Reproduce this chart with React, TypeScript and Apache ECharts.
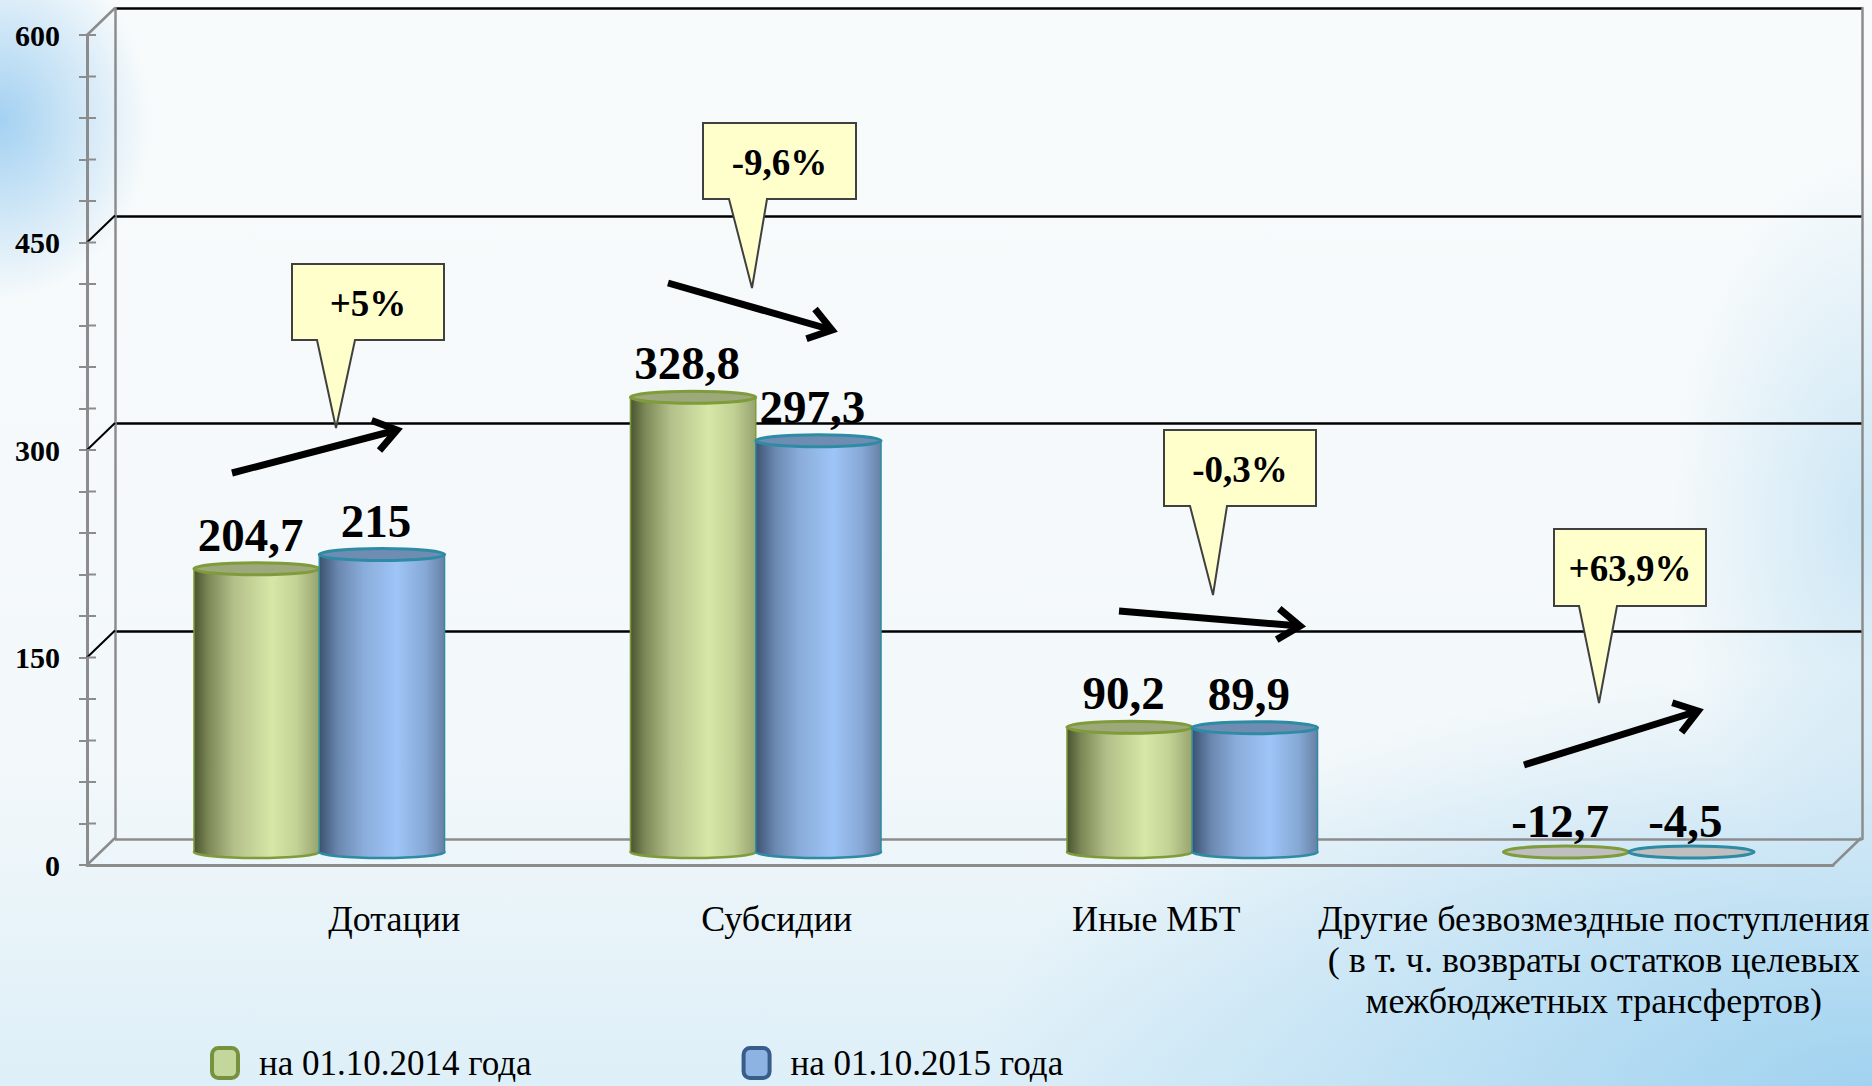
import React, { useEffect, useRef } from "react";
import * as echarts from "echarts";

const categories = [
  "Дотации",
  "Субсидии",
  "Иные МБТ",
  "Другие безвозмездные поступления\n( в т. ч. возвраты остатков целевых\nмежбюджетных трансфертов)",
];
const series2014 = [204.7, 328.8, 90.2, -12.7];
const series2015 = [215, 297.3, 89.9, -4.5];
const seriesNames = ["на 01.10.2014 года", "на 01.10.2015 года"];
const yTicks = [0, 150, 300, 450, 600];
const minorTicks = [0, 30, 60, 90, 120, 150, 180, 210, 240, 270, 300, 330, 360, 390, 420, 450, 480, 510, 540, 570, 600];
const changeLabels = ["+5%", "-9,6%", "-0,3%", "+63,9%"];

const FONT = '"Liberation Serif", "Times New Roman", serif';

const fmt = (v: number) => String(v).replace(".", ",");

const palettes = [
  {
    body: [
      [0, "#4A5430"],
      [0.12, "#7D8A58"],
      [0.32, "#B3C08A"],
      [0.62, "#D6E7A6"],
      [0.82, "#C2D295"],
      [1, "#98A36E"],
    ],
    top: "#9DA97A",
    stroke: "#7F9B3A",
    legendFill: "#C3D69B",
    legendBorder: "#76923C",
  },
  {
    body: [
      [0, "#3C5271"],
      [0.15, "#6A87AF"],
      [0.35, "#8AACDA"],
      [0.62, "#9EC5F7"],
      [0.85, "#86A8D5"],
      [1, "#6781A5"],
    ],
    top: "#6F8CB2",
    stroke: "#2E8BA4",
    legendFill: "#8DB3E2",
    legendBorder: "#385D8A",
  },
];

function cylinder(idx: number) {
  const p = palettes[idx];
  return (params: any, api: any) => {
    const cat = api.value(0);
    const v = api.value(1);
    const band = api.size([1, 0])[0];
    const w = band * 0.287;
    const base = api.coord([cat, 0]);
    const topPt = api.coord([cat, Math.max(v, 0)]);
    const cx = base[0] + (idx === 0 ? -w / 2 : w / 2);
    const x0 = cx - w / 2;
    const yb = base[1];
    const yt = topPt[1];
    const ry = 6;
    const grad = {
      type: "linear",
      x: 0,
      y: 0,
      x2: 1,
      y2: 0,
      colorStops: p.body.map((s: any) => ({ offset: s[0], color: s[1] })),
    };
    const children: any[] = [];
    if (v > 0) {
      children.push({
        type: "ellipse",
        shape: { cx, cy: yb, rx: w / 2, ry },
        style: { fill: grad, stroke: p.stroke, lineWidth: 2.5 },
      });
      children.push({
        type: "rect",
        shape: { x: x0, y: yt, width: w, height: yb - yt },
        style: { fill: grad, lineWidth: 0 },
      });
      children.push({
        type: "line",
        shape: { x1: x0, y1: yt, x2: x0, y2: yb },
        style: { stroke: p.stroke, lineWidth: 1.5 },
      });
      children.push({
        type: "line",
        shape: { x1: x0 + w, y1: yt, x2: x0 + w, y2: yb },
        style: { stroke: p.stroke, lineWidth: 1.5 },
      });
      children.push({
        type: "ellipse",
        shape: { cx, cy: yt, rx: w / 2, ry },
        style: { fill: p.top, stroke: p.stroke, lineWidth: 3 },
      });
    } else {
      children.push({
        type: "ellipse",
        shape: { cx, cy: yb, rx: w / 2, ry },
        style: { fill: "#BFBFBF", stroke: p.stroke, lineWidth: 3 },
      });
    }
    children.push({
      type: "text",
      z2: 50,
      style: {
        text: fmt(v),
        x: cx - 6,
        y: v > 0 ? yt - 34 : yb - 31,
        align: "center",
        verticalAlign: "middle",
        font: `bold 47px ${FONT}`,
        fill: "#000",
      },
    });
    return { type: "group", children };
  };
}

function frameLines(params: any, api: any) {
  const x = api.value(0);
  const v = api.value(1);
  const dark = api.value(2);
  const pt = api.coord([x, v]);
  return {
    type: "line",
    shape: { x1: pt[0], y1: pt[1], x2: pt[0] + 28, y2: pt[1] - 27 },
    style: { stroke: dark ? "#000" : "#8C8C8C", lineWidth: dark ? 2 : 2.5 },
  };
}

function arrow(x1: number, y1: number, x2: number, y2: number) {
  const ang = Math.atan2(y2 - y1, x2 - x1);
  const L = 27;
  const a = (35 * Math.PI) / 180;
  const w1 = [x2 - L * Math.cos(ang - a), y2 - L * Math.sin(ang - a)];
  const w2 = [x2 - L * Math.cos(ang + a), y2 - L * Math.sin(ang + a)];
  return [
    {
      type: "line",
      z: 100,
      shape: { x1, y1, x2, y2 },
      style: { stroke: "#000", lineWidth: 7 },
    },
    {
      type: "polyline",
      z: 100,
      shape: { points: [w1, [x2, y2], w2] },
      style: { stroke: "#000", lineWidth: 7, fill: null, lineJoin: "miter" },
    },
  ];
}

function callout(
  bx0: number,
  by0: number,
  bx1: number,
  by1: number,
  t0: number,
  t1: number,
  tip: number[],
  text: string
) {
  return [
    {
      type: "polygon",
      z: 100,
      shape: {
        points: [
          [bx0, by0],
          [bx1, by0],
          [bx1, by1],
          [t1, by1],
          tip,
          [t0, by1],
          [bx0, by1],
        ],
      },
      style: { fill: "#FFFFCC", stroke: "#404040", lineWidth: 2 },
    },
    {
      type: "text",
      z: 101,
      x: (bx0 + bx1) / 2,
      y: (by0 + by1) / 2 + 1,
      style: {
        text,
        align: "center",
        verticalAlign: "middle",
        font: `bold 37px ${FONT}`,
        fill: "#000",
      },
    },
  ];
}

export default function App() {
  const ref = useRef<HTMLDivElement>(null);
  useEffect(() => {
    if (!ref.current) return;
    const chart = echarts.init(ref.current, null, { renderer: "svg" });

    const pads = [
      [0, 0, 0, 150],
      [0, 0, 0, 42],
      [0, 72, 0, 0],
      [0, 70, 0, 0],
    ];
    const catLabelData = categories.map((c, i) => ({
      value: c,
      textStyle: { padding: pads[i] },
    }));

    const option: any = {
      animation: false,
      backgroundColor: "transparent",
      textStyle: { fontFamily: FONT },
      grid: [
        { left: 115, right: 10, top: 8, bottom: 247, containLabel: false, outerBoundsMode: "none" },
        { left: 87, right: 39, top: 35, bottom: 221, containLabel: false, outerBoundsMode: "none" },
        { left: 101, right: 25, top: 22, bottom: 234, containLabel: false, outerBoundsMode: "none" },
      ],
      xAxis: [
        { gridIndex: 0, type: "value", min: 0, max: 1, show: false },
        {
          gridIndex: 1,
          type: "value",
          min: 0,
          max: 1,
          axisLine: { show: true, lineStyle: { color: "#8C8C8C", width: 3 } },
          axisTick: { show: false },
          axisLabel: { show: false },
          splitLine: { show: false },
        },
        {
          gridIndex: 2,
          type: "category",
          data: catLabelData,
          axisLine: { show: false },
          axisTick: { show: false },
          axisLabel: {
            interval: 0,
            margin: 46,
            fontSize: 36,
            lineHeight: 41,
            fontFamily: FONT,
            color: "#000",
          },
        },
      ],
      yAxis: [
        {
          gridIndex: 0,
          type: "value",
          position: "left",
          min: 0,
          max: 600,
          interval: 150,
          axisLine: { show: true, lineStyle: { color: "#8C8C8C", width: 2.5 } },
          axisTick: { show: false },
          axisLabel: { show: false },
          splitLine: {
            show: true,
            lineStyle: { color: ["#8C8C8C", "#000", "#000", "#000", "#000"], width: 2.5 },
          },
        },
        {
          gridIndex: 0,
          type: "value",
          position: "right",
          min: 0,
          max: 600,
          interval: 150,
          axisLine: { show: true, lineStyle: { color: "#8C8C8C", width: 2.5 } },
          axisTick: { show: false },
          axisLabel: { show: false },
          splitLine: { show: false },
        },
        {
          gridIndex: 1,
          type: "value",
          position: "left",
          min: 0,
          max: 600,
          interval: 150,
          axisLine: { show: true, lineStyle: { color: "#8C8C8C", width: 3 } },
          axisTick: { show: true, inside: false, length: 8, lineStyle: { color: "#8C8C8C", width: 2 } },
          minorTick: { show: true, splitNumber: 5, length: 8, lineStyle: { color: "#8C8C8C", width: 2 } },
          axisLabel: {
            show: true,
            margin: 27,
            fontSize: 30,
            fontWeight: "bold",
            fontFamily: FONT,
            color: "#000",
          },
          splitLine: { show: false },
        },
        { gridIndex: 2, type: "value", min: 0, max: 600, interval: 150, show: false },
      ],
      legend: {
        left: 205,
        top: 1040,
        itemWidth: 26,
        itemHeight: 30,
        itemGap: 210,
        textStyle: {
          fontFamily: FONT,
          fontSize: 35,
          lineHeight: 36,
          color: "#000",
          padding: [0, 0, 0, 16],
        },
        data: seriesNames.map((n, i) => ({
          name: n,
          icon: "roundRect",
          itemStyle: {
            color: palettes[i].legendFill,
            borderColor: palettes[i].legendBorder,
            borderWidth: 4,
          },
        })),
      },
      series: [
        {
          type: "custom",
          name: "frame",
          xAxisIndex: 1,
          yAxisIndex: 2,
          silent: true,
          z: 1,
          renderItem: frameLines,
          data: [...yTicks.map((t) => [0, t, t === 0 || t === 600 ? 0 : 1]), [1, 0, 0]],
        },
        {
          type: "custom",
          name: "ticks",
          xAxisIndex: 1,
          yAxisIndex: 2,
          silent: true,
          z: 1,
          renderItem: (params: any, api: any) => {
            const pt = api.coord([0, api.value(0)]);
            return {
              type: "line",
              shape: { x1: pt[0], y1: pt[1], x2: pt[0] + 9, y2: pt[1] },
              style: { stroke: "#8C8C8C", lineWidth: 2 },
            };
          },
          data: minorTicks.map((t) => [t]),
        },
        {
          type: "custom",
          name: seriesNames[0],
          xAxisIndex: 2,
          yAxisIndex: 3,
          z: 3,
          itemStyle: { color: palettes[0].legendFill },
          renderItem: cylinder(0),
          data: series2014.map((v, i) => [i, v]),
        },
        {
          type: "custom",
          name: seriesNames[1],
          xAxisIndex: 2,
          yAxisIndex: 3,
          z: 4,
          itemStyle: { color: palettes[1].legendFill },
          renderItem: cylinder(1),
          data: series2015.map((v, i) => [i, v]),
        },
      ],
      graphic: [
        ...callout(292, 264, 444, 340, 317, 355, [336, 428], changeLabels[0]),
        ...callout(703, 123, 856, 199, 729, 767, [752, 288], changeLabels[1]),
        ...callout(1164, 430, 1316, 506, 1190, 1227, [1213, 595], changeLabels[2]),
        ...callout(1554, 529, 1706, 606, 1579, 1617, [1599, 703], changeLabels[3]),
        ...arrow(232, 473, 397, 430),
        ...arrow(668, 283, 832, 330),
        ...arrow(1119, 611, 1300, 626),
        ...arrow(1524, 765, 1698, 711),
      ],
    };
    chart.setOption(option);
    return () => chart.dispose();
  }, []);

  return (
    <div
      ref={ref}
      style={{
        position: "fixed",
        left: 0,
        top: 0,
        width: 1872,
        height: 1086,
        background:
          "radial-gradient(ellipse 150px 180px at 0px 120px, rgba(135,195,238,0.75), rgba(135,195,238,0)), " +
          "radial-gradient(ellipse 900px 420px at 1872px 1086px, rgba(150,205,238,0.85), rgba(150,205,238,0)), " +
          "radial-gradient(ellipse 200px 360px at 1872px 520px, rgba(170,215,240,0.55), rgba(170,215,240,0)), " +
          "linear-gradient(180deg, #F8FBFC 0%, #F3F8FA 70%, #DDEFF8 100%)",
      }}
    />
  );
}
